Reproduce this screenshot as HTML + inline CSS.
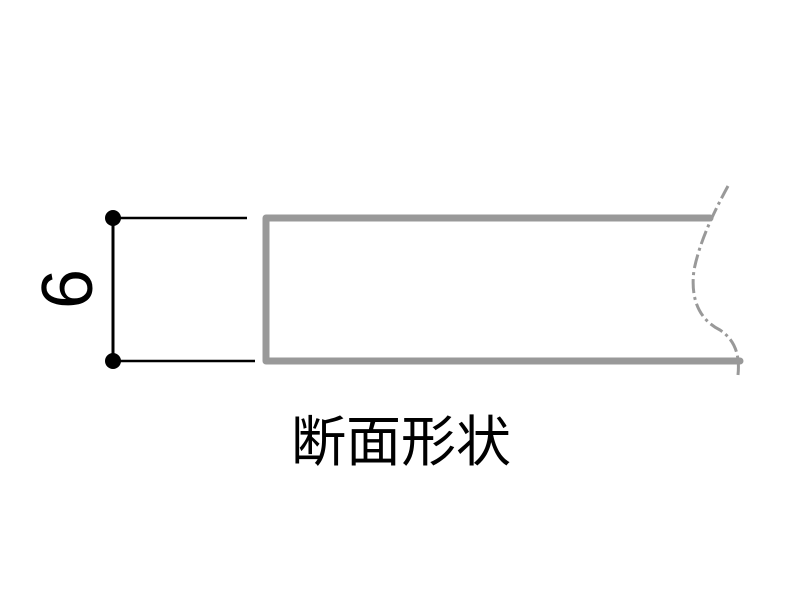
<!DOCTYPE html>
<html><head><meta charset="utf-8"><style>
html,body{margin:0;padding:0;background:#fff;width:800px;height:600px;overflow:hidden}
</style></head><body>
<svg width="800" height="600" viewBox="0 0 800 600" xmlns="http://www.w3.org/2000/svg">
<rect width="800" height="600" fill="#fff"/>
<path d="M710 218 H266 V361 H740" fill="none" stroke="#999" stroke-width="7" stroke-linecap="round" stroke-linejoin="round"/>
<path d="M728 186 C715 210 700 240 694 270 C690 300 700 320 720 330 C735 340 740 355 738 375" fill="none" stroke="#999" stroke-width="3" stroke-dasharray="14 4 3 4"/>
<line x1="113" y1="218" x2="247" y2="218" stroke="#000" stroke-width="2.5"/>
<line x1="113" y1="361" x2="255" y2="361" stroke="#000" stroke-width="2.5"/>
<line x1="113" y1="218" x2="113" y2="361" stroke="#000" stroke-width="3"/>
<circle cx="113" cy="218" r="8" fill="#000"/>
<circle cx="113" cy="361" r="8" fill="#000"/>
<text x="0" y="0" transform="translate(92,289) rotate(-90)" text-anchor="middle" font-family="Liberation Sans, sans-serif" font-size="72" fill="#000">6</text>
<text x="401" y="461" text-anchor="middle" font-family="Liberation Sans, 'Noto Sans CJK JP', sans-serif" font-size="55" fill="#000">断面形状</text>
</svg>
</body></html>
